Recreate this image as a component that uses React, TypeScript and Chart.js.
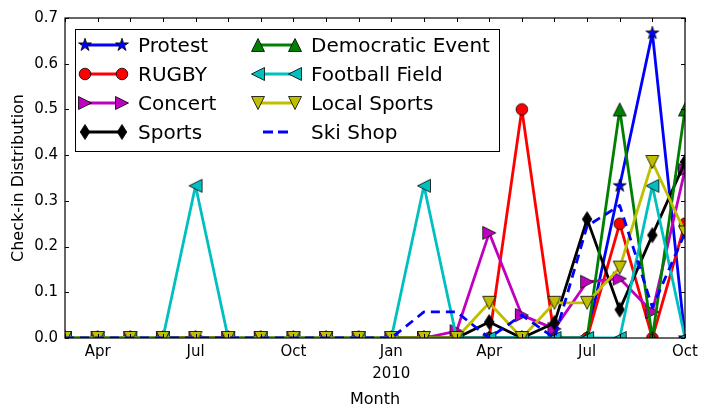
import React, { useEffect, useRef } from 'react';
import Chart from 'chart.js/auto';

// months from Mar 2009 to Oct 2010
const months = [
  'Mar 2009', 'Apr 2009', 'May 2009', 'Jun 2009', 'Jul 2009', 'Aug 2009', 'Sep 2009',
  'Oct 2009', 'Nov 2009', 'Dec 2009', 'Jan 2010', 'Feb 2010', 'Mar 2010', 'Apr 2010',
  'May 2010', 'Jun 2010', 'Jul 2010', 'Aug 2010', 'Sep 2010', 'Oct 2010',
];
const tickMonths = ['Apr 2009', 'Jul 2009', 'Oct 2009', 'Jan 2010', 'Apr 2010', 'Jul 2010', 'Oct 2010'];
const tickLabels = ['Apr', 'Jul', 'Oct', 'Jan\n2010', 'Apr', 'Jul', 'Oct'];

const protest = [0, 0, 0, 0, 0, 0, 0, 0, 0, 0, 0, 0, 0, 0, 0, 0, 0, 0.333, 0.667, 0];
const rugby = [0, 0, 0, 0, 0, 0, 0, 0, 0, 0, 0, 0, 0, 0, 0.5, 0, 0, 0.25, 0, 0.25];
const concert = [0, 0, 0, 0, 0, 0, 0, 0, 0, 0, 0, 0, 0.015, 0.23, 0.05, 0.02, 0.123, 0.13, 0.057, 0.368];
const sports = [0, 0, 0, 0, 0, 0, 0, 0, 0, 0, 0, 0, 0, 0.035, 0, 0.033, 0.26, 0.062, 0.225, 0.385];
const democratic = [0, 0, 0, 0, 0, 0, 0, 0, 0, 0, 0, 0, 0, 0, 0, 0, 0, 0.5, 0, 0.5];
const footballField = [0, 0, 0, 0, 0.333, 0, 0, 0, 0, 0, 0, 0.333, 0, 0, 0, 0, 0, 0, 0.333, 0];
const localSports = [0, 0, 0, 0, 0, 0, 0, 0, 0, 0, 0, 0, 0, 0.077, 0, 0.077, 0.077, 0.154, 0.385, 0.231];
const skiShop = [0, 0, 0, 0, 0, 0, 0, 0, 0, 0, 0, 0.057, 0.057, 0, 0.05, 0, 0.245, 0.29, 0.067, 0.23];

const seriesNames = ['Protest', 'RUGBY', 'Concert', 'Sports', 'Democratic Event', 'Football Field', 'Local Sports', 'Ski Shop'];
const seriesValues = [protest, rugby, concert, sports, democratic, footballField, localSports, skiShop];
const seriesColors = ['#0000ff', '#ff0000', '#bf00bf', '#000000', '#008000', '#00bfbf', '#bfbf00', '#0000ff'];
const seriesShapes = ['star', 'circle', 'tri-right', 'thin-diamond', 'tri-up', 'tri-left', 'tri-down', 'none'];

const FONT = '"DejaVu Sans", sans-serif';

function tracePath(ctx: CanvasRenderingContext2D, shape: string, cx: number, cy: number) {
  ctx.beginPath();
  const h = 6.5;
  if (shape === 'circle') {
    ctx.arc(cx, cy, 5.8, 0, Math.PI * 2);
    return;
  }
  let pts: number[][] = [];
  if (shape === 'star') {
    const R = 6.8, r = R * 0.382;
    for (let k = 0; k < 10; k++) {
      const a = -Math.PI / 2 + (k * Math.PI) / 5;
      const rad = k % 2 === 0 ? R : r;
      pts.push([Math.cos(a) * rad, Math.sin(a) * rad]);
    }
  } else if (shape === 'tri-right') {
    pts = [[h, 0], [-h, -h], [-h, h]];
  } else if (shape === 'tri-left') {
    pts = [[-h, 0], [h, -h], [h, h]];
  } else if (shape === 'tri-up') {
    pts = [[0, -h], [h, h], [-h, h]];
  } else if (shape === 'tri-down') {
    pts = [[0, h], [h, -h], [-h, -h]];
  } else if (shape === 'thin-diamond') {
    pts = [[0, -7.5], [4.8, 0], [0, 7.5], [-4.8, 0]];
  }
  pts.forEach(([x, y], k) => (k === 0 ? ctx.moveTo(cx + x, cy + y) : ctx.lineTo(cx + x, cy + y)));
  ctx.closePath();
}

function makeMarker(shape: string, fill: string): HTMLCanvasElement {
  const s = 18;
  const c = document.createElement('canvas');
  c.width = s;
  c.height = s;
  const ctx = c.getContext('2d')!;
  tracePath(ctx, shape, s / 2, s / 2);
  ctx.fillStyle = fill;
  ctx.fill();
  ctx.lineWidth = 0.8;
  ctx.strokeStyle = '#000';
  ctx.stroke();
  return c;
}

export default function App() {
  const canvasRef = useRef<HTMLCanvasElement>(null);
  const chartRef = useRef<Chart | null>(null);

  useEffect(() => {
    if (!canvasRef.current) return;
    const markers = seriesShapes.map((sh, i) => (sh === 'none' ? null : makeMarker(sh, seriesColors[i])));

    const frameAndLegend = {
      id: 'frameAndLegend',
      afterDraw(chart: any) {
        const { ctx, chartArea } = chart;
        const { left, right, top, bottom } = chartArea;
        const xs = chart.scales.x;
        const ys = chart.scales.y;
        ctx.save();
        ctx.strokeStyle = '#000';
        ctx.lineWidth = 1;
        ctx.beginPath();
        ys.ticks.forEach((t: any) => {
          const y = Math.round(ys.getPixelForValue(t.value)) + 0.5;
          ctx.moveTo(left, y); ctx.lineTo(left + 4, y);
          ctx.moveTo(right, y); ctx.lineTo(right - 4, y);
        });
        months.forEach((_, i) => {
          const x = Math.round(xs.getPixelForValue(i)) + 0.5;
          ctx.moveTo(x, bottom); ctx.lineTo(x, bottom - 4);
          ctx.moveTo(x, top); ctx.lineTo(x, top + 4);
        });
        ctx.stroke();
        ctx.lineWidth = 1.2;
        ctx.strokeRect(left, top, right - left, bottom - top);

        // legend box
        const bx = left + 10, by = top + 11, bw = 424, bh = 122;
        ctx.fillStyle = '#fff';
        ctx.fillRect(bx, by, bw, bh);
        ctx.lineWidth = 1;
        ctx.strokeRect(bx + 0.5, by + 0.5, bw, bh);
        ctx.font = `20px ${FONT}`;
        ctx.textBaseline = 'alphabetic';
        seriesNames.forEach((name, i) => {
          const col = Math.floor(i / 4);
          const row = i % 4;
          const x0 = bx + 10 + col * 173;
          const x1 = x0 + 37;
          const y = by + 16 + row * 29;
          ctx.save();
          ctx.strokeStyle = seriesColors[i];
          ctx.lineWidth = 2.8;
          ctx.beginPath();
          if (seriesShapes[i] === 'none') {
            ctx.setLineDash([10, 5]);
            ctx.lineCap = 'butt';
            ctx.moveTo(x0 + 5, y);
            ctx.lineTo(x1 - 7, y);
          } else {
            ctx.moveTo(x0, y);
            ctx.lineTo(x1, y);
          }
          ctx.stroke();
          ctx.restore();
          const m = markers[i];
          if (m) {
            ctx.drawImage(m, x0 - m.width / 2, y - m.height / 2);
            ctx.drawImage(m, x1 - m.width / 2, y - m.height / 2);
          }
          ctx.fillStyle = '#000';
          ctx.fillText(name, x1 + 16, y + 7);
        });
        ctx.restore();
      },
    };

    chartRef.current = new Chart(canvasRef.current, {
      type: 'line',
      data: {
        labels: months,
        datasets: seriesNames.map((name, i) => ({
          label: name,
          data: seriesValues[i],
          borderColor: seriesColors[i],
          backgroundColor: seriesColors[i],
          borderWidth: 2.8,
          borderDash: seriesShapes[i] === 'none' ? [9, 6] : [],
          borderCapStyle: seriesShapes[i] === 'none' ? 'butt' : 'round',
          borderJoinStyle: 'round',
          pointStyle: markers[i] || false,
          pointRadius: markers[i] ? 6 : 0,
          pointHoverRadius: markers[i] ? 6 : 0,
          tension: 0,
          clip: 0,
          order: seriesNames.length - 1 - i,
        })) as any,
      },
      options: {
        animation: false,
        responsive: true,
        maintainAspectRatio: false,
        layout: { padding: { left: 0, top: 18, right: 23, bottom: 0 } },
        plugins: {
          legend: { display: false },
          tooltip: { enabled: false },
        },
        scales: {
          x: {
            type: 'category',
            offset: false,
            grid: { display: false, drawTicks: false },
            border: { display: false },
            ticks: {
              autoSkip: false,
              maxRotation: 0,
              padding: 3,
              color: '#000',
              font: { family: FONT, size: 15, lineHeight: 1.45 },
              callback: (_v: any, i: number) => {
                const k = tickMonths.indexOf(months[i]);
                return k >= 0 ? tickLabels[k].split('\n') : '';
              },
            },
            title: {
              display: true,
              text: 'Month',
              color: '#000',
              font: { family: FONT, size: 16 },
              padding: { top: 0, bottom: 9 },
            },
            afterFit: (s: any) => { s.height = 80; },
          },
          y: {
            type: 'linear',
            min: 0,
            max: 0.7,
            grid: { display: false, drawTicks: false },
            border: { display: false },
            ticks: {
              stepSize: 0.1,
              padding: 7,
              color: '#000',
              font: { family: FONT, size: 15 },
              callback: (v: any) => Number(v).toFixed(1),
            },
            title: {
              display: true,
              text: 'Check-in Distribution',
              color: '#000',
              font: { family: FONT, size: 16 },
              padding: { top: 9, bottom: 0 },
            },
            afterFit: (s: any) => { s.width = 65; },
          },
        },
      },
      plugins: [frameAndLegend],
    });

    return () => {
      if (chartRef.current) {
        chartRef.current.destroy();
        chartRef.current = null;
      }
    };
  }, []);

  return (
    <div style={{ position: 'fixed', left: 0, top: 0, width: 708, height: 418, background: '#fff' }}>
      <canvas ref={canvasRef} />
    </div>
  );
}
